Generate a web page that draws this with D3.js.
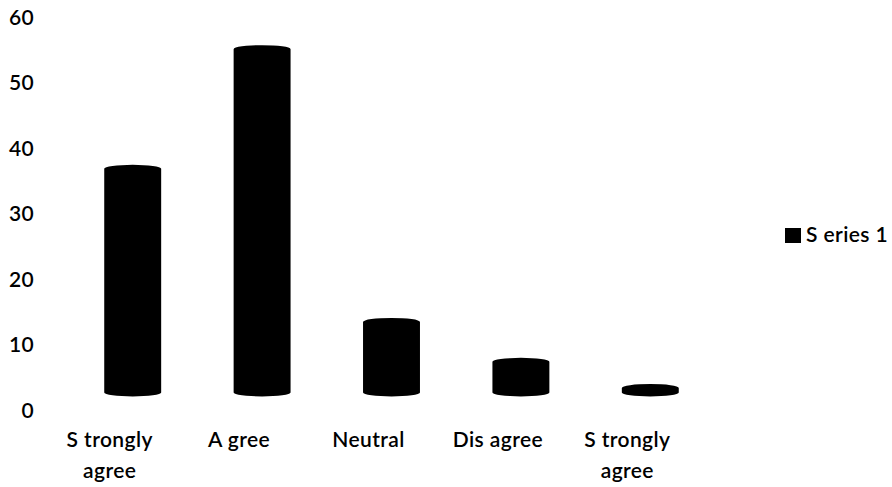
<!DOCTYPE html>
<html>
<head>
<meta charset="utf-8">
<script src="https://cdn.jsdelivr.net/npm/d3@7"></script>
<style>
  body { margin: 0; background: #fff; }
  svg text { font-family: Lato, "Open Sans", sans-serif; fill: #000; font-weight: 600; }
</style>
</head>
<body>
<div id="chart-area"></div>
<script>
// data
const categories = ["Strongly agree", "Agree", "Neutral", "Disagree", "Strongly agree 2"];
const labelLines = [["S trongly", "agree"], ["A gree"], ["Neutral"], ["Dis agree"], ["S trongly", "agree"]];
const values = [37.4, 55.7, 14.0, 7.9, 3.9];
const floorValue = 2; // 3d floor the cylinders stand on
const yTicks = [0, 10, 20, 30, 40, 50, 60];
const seriesName = "S eries 1";

const width = 892;
const height = 487;

const svg = d3
  .select("#chart-area")
  .append("svg")
  .attr("width", width)
  .attr("height", height);

// scales
const y = d3.scaleLinear().domain([0, 60]).range([409.5, 17]);

const x = d3
  .scaleBand()
  .domain(categories)
  .range([68, 715])
  .paddingInner(0.56)
  .paddingOuter(0.28);

// y axis, no line, no ticks
const yAxisGroup = svg
  .append("g")
  .attr("transform", "translate(34,0)")
  .call(d3.axisLeft(y).tickValues(yTicks).tickSize(0).tickPadding(0));

yAxisGroup.select(".domain").remove();
yAxisGroup
  .selectAll("text")
  .attr("dy", "0.36em")
  .style("font-size", "21px")
  .style("letter-spacing", "0.3px")
  .style("font-family", "Lato, sans-serif")
  .style("font-weight", "600");

// cylinders drawn as black silhouettes
const ry = 4;
function cylinder(d, i) {
  const x0 = x(categories[i]);
  const x1 = x0 + x.bandwidth();
  const rx = x.bandwidth() / 2;
  const yt = y(d) + ry;
  const yb = y(floorValue) - ry;
  return `M${x0},${yb} L${x0},${yt} A${rx},${ry} 0 0 1 ${x1},${yt} L${x1},${yb} A${rx},${ry} 0 0 1 ${x0},${yb} Z`;
}

svg
  .selectAll(".bar")
  .data(values)
  .enter()
  .append("path")
  .attr("class", "bar")
  .attr("fill", "#000")
  .attr("d", cylinder);

// x axis labels (front of the 3d floor sits a bit left of the bars)
const xAxisGroup = svg
  .append("g")
  .attr("transform", "translate(-23,418)")
  .call(d3.axisBottom(x).tickSize(0));

xAxisGroup.select(".domain").remove();
xAxisGroup.selectAll("text").remove();
xAxisGroup
  .selectAll(".tick")
  .append("text")
  .attr("text-anchor", "middle")
  .style("font-size", "21px")
  .style("letter-spacing", "0.4px")
  .each(function(d, i) {
    const t = d3.select(this);
    labelLines[i].forEach(function(line, j) {
      t.append("tspan")
        .attr("x", 0)
        .attr("y", 29 + j * 31)
        .text(line);
    });
  });

// legend
const legend = svg.append("g").attr("transform", "translate(785,228)");
legend.append("rect").attr("width", 16).attr("height", 15).attr("fill", "#000");
legend
  .append("text")
  .attr("x", 21)
  .attr("y", 14)
  .style("font-size", "21px")
  .style("letter-spacing", "0.4px")
  .text(seriesName);
</script>
</body>
</html>
